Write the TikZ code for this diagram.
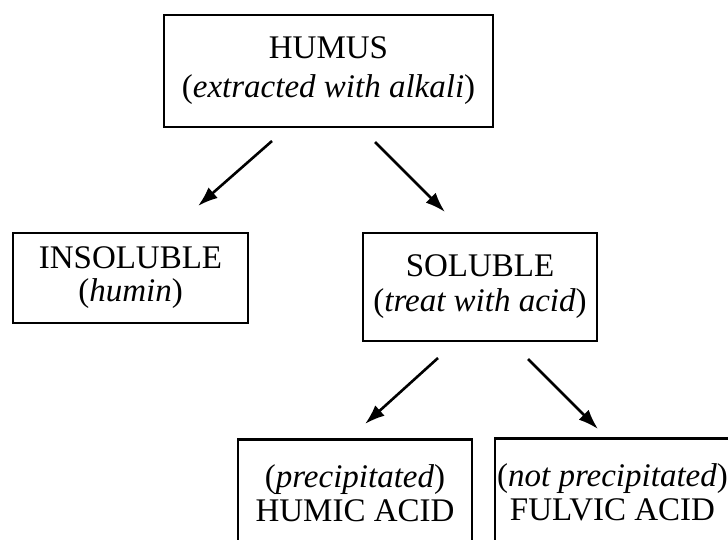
\documentclass[tikz,border=0pt]{standalone}
\usepackage{fontspec}
\setmainfont{Liberation Serif}
\usetikzlibrary{arrows.meta}
\begin{document}
\begin{tikzpicture}[x=1pt,y=-1pt,
  box/.style={draw, rectangle, line width=2.6pt, align=center, inner sep=0pt,
    font=\fontsize{33}{38}\selectfont},
  arr/.style={-{Latex[length=20pt,width=14pt]}, line width=2.6pt}]
\useasboundingbox (0,0) rectangle (728,540);
\clip (0,0) rectangle (728,540);
\node[box, minimum width=329pt, minimum height=112pt] (humus) at (328.5,71) {HUMUS\\[1pt](\textit{extracted with alkali})};
\node[box, minimum width=235pt, minimum height=90pt] (insol) at (130.5,278) {INSOLUBLE\\[-5pt](\textit{humin})};
\node[box, minimum width=234pt, minimum height=108pt] (sol) at (480,287) {SOLUBLE\\[-3pt](\textit{treat with acid})};
\node[box, minimum width=234pt, minimum height=108pt, anchor=north] (humic) at (355,438) {(\textit{precipitated})\\[-4pt]HUMIC ACID};
\node[box, minimum width=235pt, minimum height=108pt, anchor=north] (fulvic) at (612.5,437) {(\textit{not precipitated})\\[-4pt]FULVIC ACID};
% free arrow ends
\coordinate (a1s) at (272,141); \coordinate (a1e) at (198,206);
\coordinate (a2s) at (375,142); \coordinate (a2e) at (445,212);
\coordinate (a3s) at (438,358); \coordinate (a3e) at (365,424);
\coordinate (a4s) at (528,359); \coordinate (a4e) at (598,429);
\draw[arr] (a1s) -- (a1e);
\draw[arr] (a2s) -- (a2e);
\draw[arr] (a3s) -- (a3e);
\draw[arr] (a4s) -- (a4e);
\end{tikzpicture}
\end{document}
